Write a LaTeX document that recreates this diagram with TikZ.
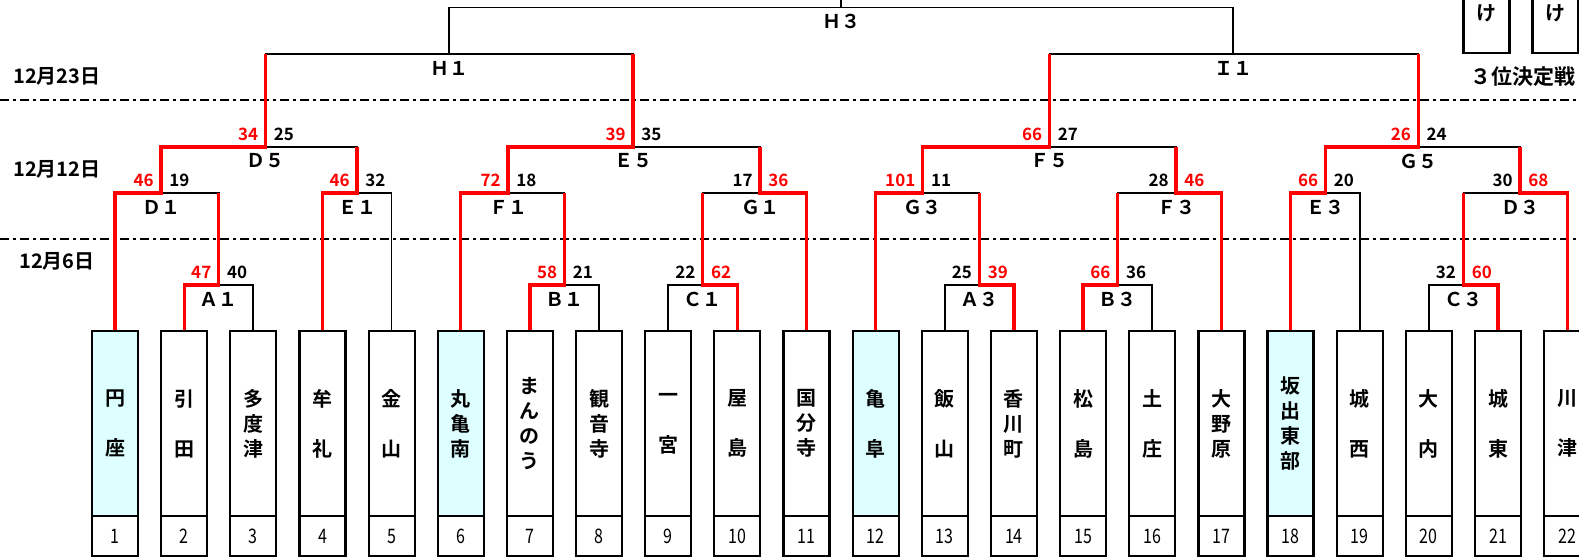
\documentclass[tikz,border=0pt]{standalone}
\usepackage{fontspec}
\setmainfont{Noto Sans CJK JP}[BoldFont={Noto Sans CJK JP Bold}]
\newfontfamily\numfont{Noto Sans CJK JP}[FakeStretch=0.8]
\definecolor{seedcyan}{RGB}{221,255,255}
\tikzset{
  team/.style={draw, line width=1.1pt, minimum width=23pt, minimum height=92.5pt,
    inner sep=0pt, align=center, font=\bfseries\fontsize{10}{12.5}\selectfont},
  numbox/.style={draw, line width=1.1pt, minimum width=23pt, minimum height=20pt,
    inner sep=0pt, font=\numfont\fontsize{10}{12}\selectfont},
  thirdbox/.style={draw, line width=1.1pt, minimum width=23pt, minimum height=40pt,
    inner sep=0pt, font=\bfseries\fontsize{10}{12}\selectfont},
  seed1/.style={fill=seedcyan}, seed6/.style={fill=seedcyan},
  seed12/.style={fill=seedcyan}, seed18/.style={fill=seedcyan},
  game/.style={line width=0.85pt},
  win/.style={red, line width=1.65pt},
  gamelbl/.style={font=\bfseries\fontsize{9.5}{10}\selectfont, inner sep=0pt},
  score/.style={font=\bfseries\fontsize{8.5}{10}\selectfont, inner sep=0pt},
  daylbl/.style={font=\bfseries\fontsize{10}{12}\selectfont, inner sep=0pt},
  daysep/.style={line width=0.9pt, dash pattern=on 4.5pt off 2pt on 1.5pt off 2pt},
}
\begin{document}
\begin{tikzpicture}[x=0.5pt,y=-0.5pt]
\useasboundingbox (0,0) rectangle (1579,557);
\clip (0,0) rectangle (1579,557);

% days
\draw[daysep] (0,100) -- (1579,100);
\draw[daysep] (0,239) -- (1579,239);
\node[daylbl, anchor=west] (d23) at (13,76) {12月23日};
\node[daylbl, anchor=west] (d12) at (13,169) {12月12日};
\node[daylbl] (d6) at (57,261) {12月6日};

% teams
\foreach \name [count=\i] in {円\\[12.5pt]座, 引\\[12.5pt]田, 多\\度\\津, 牟\\[12.5pt]礼,
    金\\[12.5pt]山, 丸\\亀\\南, ま\\ん\\の\\う, 観\\音\\寺, 一\\[12.5pt]宮, 屋\\[12.5pt]島,
    国\\分\\寺, 亀\\[12.5pt]阜, 飯\\[12.5pt]山, 香\\川\\町, 松\\[12.5pt]島, 土\\[12.5pt]庄,
    大\\野\\原, 坂\\出\\東\\部, 城\\[12.5pt]西, 大\\[12.5pt]内, 城\\[12.5pt]東, 川\\[12.5pt]津}{
  \node[team, seed\i/.try] (t\i) at ({115+69.15*(\i-1)},423.5) {\name};
  \node[numbox] (n\i) at ({115+69.15*(\i-1)},536) {\i};
  \coordinate (p\i) at (t\i.north);
}

% games
\coordinate (A1) at (218.7,285);
\coordinate (B1) at (564.5,285);
\coordinate (C1) at (702.8,285);
\coordinate (A3) at (979.4,285);
\coordinate (B3) at (1117.7,285);
\coordinate (C3) at (1463.4,285);
\coordinate (D1) at (161,193);
\coordinate (E1) at (357,193);
\coordinate (F1) at (508,193);
\coordinate (G1) at (760,193);
\coordinate (G3) at (922.7,193);
\coordinate (F3) at (1176,193);
\coordinate (E3) at (1325.5,193);
\coordinate (D3) at (1520,193);
\coordinate (D5) at (265.5,147);
\coordinate (E5) at (633,147);
\coordinate (F5) at (1049.5,147);
\coordinate (G5) at (1418.3,147);
\coordinate (H1) at (449,54);
\coordinate (I1) at (1233.3,54);
\coordinate (H3) at (841,7.5);
\coordinate (top) at (841,-10);

\foreach \m/\l/\r in {A1/p2/p3, B1/p7/p8, C1/p9/p10, A3/p13/p14, B3/p15/p16, C3/p20/p21,
    D1/p1/A1, E1/p4/p5, F1/p6/B1, G1/C1/p11, G3/p12/A3, F3/B3/p17, E3/p18/p19, D3/C3/p22,
    D5/D1/E1, E5/F1/G1, F5/G3/F3, G5/E3/D3, H1/D5/E5, I1/F5/G5, H3/H1/I1}
  \draw[game] (\l) |- (\m) -| (\r);
\draw[game] (H3) -- (top);

% winners
\foreach \w/\m/\p in {p2/A1/D1, p7/B1/F1, p10/C1/G1, p14/A3/G3, p15/B3/F3, p21/C3/D3,
    p1/D1/D5, p4/E1/D5, p6/F1/E5, p11/G1/E5, p12/G3/F5, p17/F3/F5, p18/E3/G5, p22/D3/G5,
    D1/D5/H1, F1/E5/H1, G3/F5/I1, E3/G5/I1}
  \draw[win] (\w) |- (\m) -- (\m |- \p);

% game names
\foreach \m/\txt in {A1/Ａ１, B1/Ｂ１, C1/Ｃ１, A3/Ａ３, B3/Ｂ３, C3/Ｃ３, D1/Ｄ１, E1/Ｅ１,
    F1/Ｆ１, G1/Ｇ１, G3/Ｇ３, F3/Ｆ３, E3/Ｅ３, D3/Ｄ３, D5/Ｄ５, E5/Ｅ５, F5/Ｆ５, G5/Ｇ５,
    H1/Ｈ１, I1/Ｉ１, H3/Ｈ３}
  \node[gamelbl] (l\m) at ([yshift=-7pt]\m) {\txt};

% scores
\foreach \m/\a/\b/\ca/\cb in {A1/47/40/red/black, B1/58/21/red/black, C1/22/62/black/red,
    A3/25/39/black/red, B3/66/36/red/black, C3/32/60/black/red, D1/46/19/red/black,
    E1/46/32/red/black, F1/72/18/red/black, G1/17/36/black/red, G3/101/11/red/black,
    F3/28/46/black/red, E3/66/20/red/black, D3/30/68/black/red, D5/34/25/red/black,
    E5/39/35/red/black, F5/66/27/red/black, G5/26/24/red/black}{
  \node[score, text=\ca, anchor=east] (sl\m) at ([shift={(-3.5pt,6.5pt)}]\m) {\a};
  \node[score, text=\cb, anchor=west] (sr\m) at ([shift={(4pt,6.5pt)}]\m) {\b};
}

% third place
\node[thirdbox] (k1) at (1486.5,13) {け};
\node[thirdbox] (k2) at (1555.5,13) {け};
\node[daylbl, font=\bfseries\fontsize{10.5}{12}\selectfont] (third) at (1523,77) {３位決定戦};
\end{tikzpicture}
\end{document}
